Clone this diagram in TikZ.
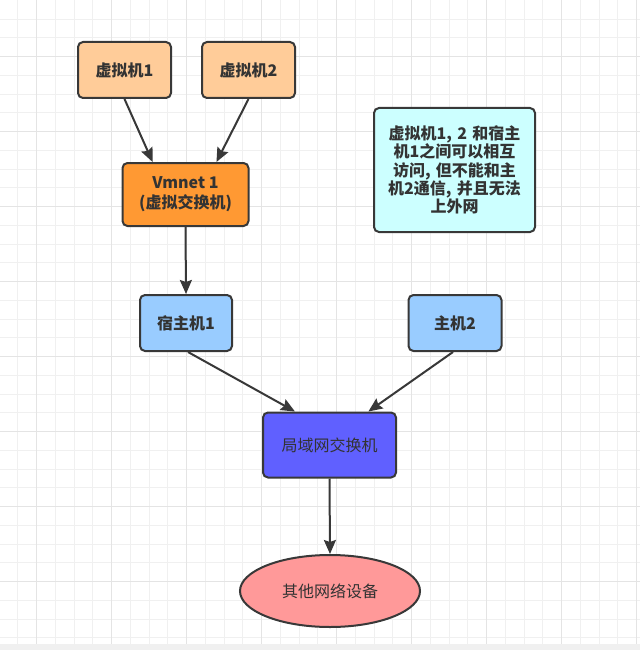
\documentclass[tikz,border=0pt]{standalone}
\usepackage{fontspec}
\setmainfont{Noto Sans CJK SC}
\usetikzlibrary{arrows.meta,shapes.geometric,calc}
\definecolor{gridminor}{HTML}{F0F0F0}
\definecolor{gridmajor}{HTML}{E4E4E4}
\definecolor{edgecol}{HTML}{383838}
\definecolor{txtcol}{HTML}{333333}
\definecolor{vmfill}{HTML}{FFCC99}
\definecolor{swfill}{HTML}{FF9933}
\definecolor{notefill}{HTML}{CCFFFF}
\definecolor{hostfill}{HTML}{99CCFF}
\definecolor{lanfill}{HTML}{6060FF}
\definecolor{devfill}{HTML}{FF9999}
\definecolor{barcol}{HTML}{F0F0F0}
\tikzset{
  box/.style={draw=edgecol, line width=2pt, rounded corners=5pt, align=center,
    text=txtcol, inner sep=0pt, font=\fontsize{16}{20}\selectfont},
  boldbox/.style={box, font=\fontsize{16}{20}\selectfont\bfseries},
  arr/.style={draw=edgecol, line width=2pt, -{Stealth[length=14pt,width=12pt,inset=2pt]}},
  minorline/.style={draw=gridminor, line width=1pt},
  majorline/.style={draw=gridmajor, line width=1pt}
}
\begin{document}
\begin{tikzpicture}[x=1pt,y=-1pt]
\useasboundingbox (0,0) rectangle (640,650);
\fill[white] (0,0) rectangle (640,650);
% grid
\foreach \i in {0,...,33} {
  \draw[minorline] ({17.95+18.75*\i},0) -- ({17.95+18.75*\i},644);
  \draw[minorline] (0,{0.45+18.75*(\i+1)}) -- (640,{0.45+18.75*(\i+1)});
}
\foreach \i in {0,...,8} {
  \draw[majorline] ({36.7+75*\i},0) -- ({36.7+75*\i},644);
}
\foreach \i in {0,...,7} {
  \draw[majorline] (0,{56.7+75*\i}) -- (640,{56.7+75*\i});
}
\fill[barcol] (0,644) rectangle (640,650);
% nodes
\node[boldbox, fill=vmfill, minimum width=93pt, minimum height=56pt] (vm1) at (124.5,70) {虚拟机1};
\node[boldbox, fill=vmfill, minimum width=93pt, minimum height=56pt] (vm2) at (248.5,70) {虚拟机2};
\node[boldbox, fill=swfill, minimum width=126pt, minimum height=63pt] (vmnet) at (185.5,194.5) {Vmnet 1\\(虚拟交换机)};
\node[boldbox, fill=notefill, minimum width=161pt, minimum height=124pt, text width=150pt,
  font=\fontsize{16}{18.2}\selectfont\bfseries] (note) at (454.5,170)
  {虚拟机1, 2 和宿主\\机1之间可以相互\\访问, 但不能和主\\机2通信, 并且无法\\上外网};
\node[boldbox, fill=hostfill, minimum width=92pt, minimum height=56pt] (host1) at (186,323) {宿主机1};
\node[boldbox, fill=hostfill, minimum width=93pt, minimum height=56pt] (host2) at (455,323) {主机2};
\node[box, fill=lanfill, minimum width=133pt, minimum height=65pt] (lan) at (329.5,445) {局域网交换机};
\node[box, ellipse, fill=devfill, minimum width=180pt, minimum height=72pt] (dev) at (330,591) {其他网络设备};
% edges
\draw[arr] (vm1.south) -- ($(vmnet.north west)!0.243!(vmnet.north east)$);
\draw[arr] (vm2.south) -- ($(vmnet.north west)!0.742!(vmnet.north east)$);
\draw[arr] (vmnet.south) -- (host1.north);
\draw[arr] ($(host1.south)+(2,0)$) -- ($(lan.north west)!0.244!(lan.north east)$);
\draw[arr] ($(host2.south)+(-2,0)$) -- ($(lan.north west)!0.788!(lan.north east)$);
\draw[arr] (lan.south) -- (dev.north);
\end{tikzpicture}
\end{document}
